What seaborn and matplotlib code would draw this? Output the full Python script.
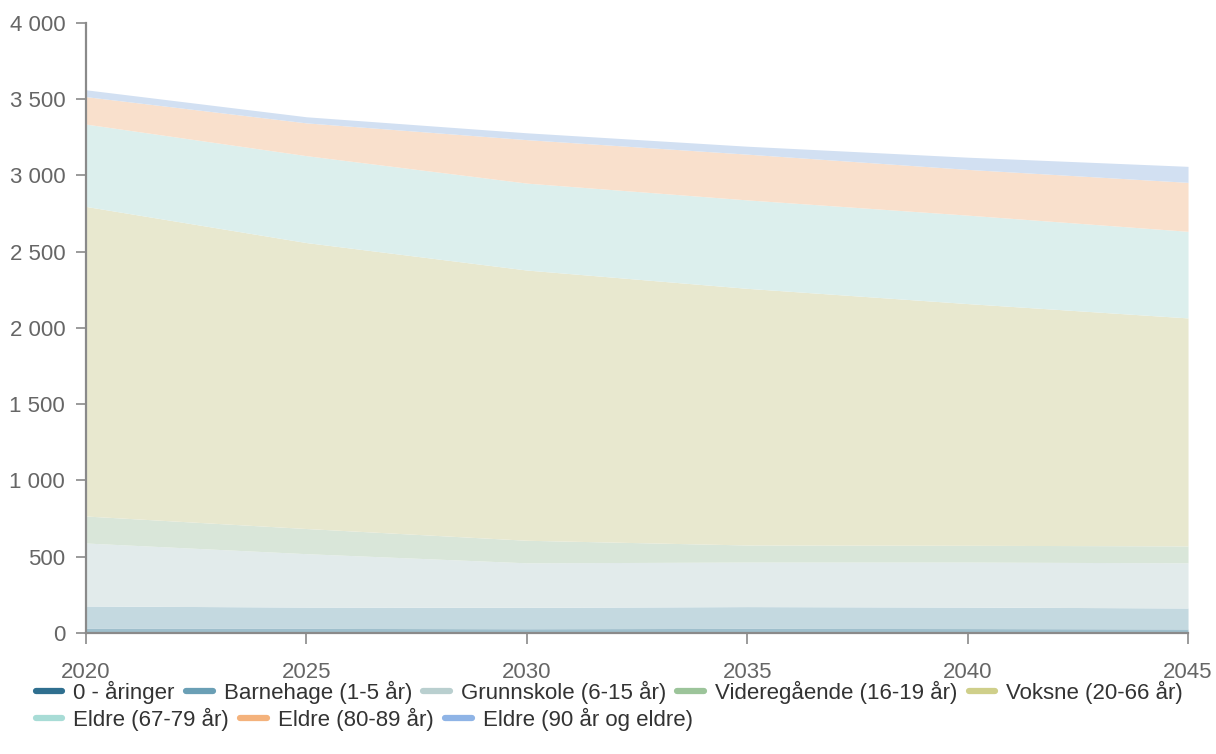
import numpy as np
import pandas as pd
import seaborn as sns
import matplotlib.pyplot as plt
from matplotlib.ticker import FuncFormatter
from matplotlib.lines import Line2D

# data (persons per age group)
years = [2020, 2025, 2030, 2035, 2040, 2045]
groups = ["0 - åringer", "Barnehage (1-5 år)", "Grunnskole (6-15 år)",
          "Videregående (16-19 år)", "Voksne (20-66 år)",
          "Eldre (67-79 år)", "Eldre (80-89 år)", "Eldre (90 år og eldre)"]
aar0 = [30, 30, 28, 30, 29, 27]
barnehage = [147, 140, 140, 143, 141, 137]
grunnskole = [413, 350, 292, 292, 295, 296]
videregaende = [177, 165, 148, 112, 110, 111]
voksne = [2030, 1875, 1772, 1683, 1585, 1495]
eldre67 = [540, 570, 570, 580, 580, 568]
eldre80 = [180, 215, 285, 300, 300, 321]
eldre90 = [45, 40, 45, 52, 80, 105]

line_colors = ["#2f6f8f", "#6a9fb5", "#b9cfcf", "#9cc49a", "#cfcf8a",
               "#a8dcd6", "#f4b27c", "#8fb4e6"]
fill_colors = ["#9fbfcc", "#c4d9e0", "#e2ebeb", "#d9e6d9", "#e8e8cf",
               "#dcefed", "#f9e0cc", "#d2e0f2"]

df = pd.DataFrame({"year": years, groups[0]: aar0, groups[1]: barnehage,
                   groups[2]: grunnskole, groups[3]: videregaende,
                   groups[4]: voksne, groups[5]: eldre67,
                   groups[6]: eldre80, groups[7]: eldre90})

sns.set_theme(style="white")
plt.rcParams['font.family'] = ['Liberation Sans', 'DejaVu Sans']

fig = plt.figure(figsize=(12.16, 7.54), dpi=100)
ax = fig.add_axes([0.0707, 0.1605, 0.9063, 0.809])

ax.stackplot(df["year"], [df[g] for g in groups], colors=fill_colors,
             linewidth=0)

ax.set_xlim(2020, 2045)
ax.set_ylim(0, 4000)
ax.set_xticks(years)
ax.set_yticks(np.arange(0, 4001, 500))
ax.yaxis.set_major_formatter(FuncFormatter(lambda v, p: f"{int(v):,}".replace(",", " ")))

for s in ["top", "right"]:
    ax.spines[s].set_visible(False)
for s in ["left", "bottom"]:
    ax.spines[s].set_color("#8a8a8a")
    ax.spines[s].set_linewidth(1.6)

ax.tick_params(axis="x", length=8, width=1.2, color="#8a8a8a", pad=13,
               labelsize=16, labelcolor="#666666", bottom=True)
ax.tick_params(axis="y", length=7, width=1.2, color="#8a8a8a", pad=8,
               labelsize=16, labelcolor="#666666", left=True)
ax.set_xlabel("")
ax.set_ylabel("")

handles = [Line2D([0], [0], color=c, lw=4.5) for c in line_colors]
leg_kw = dict(frameon=False, fontsize=16, handlelength=1.2, handletextpad=0.5,
              columnspacing=0.5, borderaxespad=0, labelcolor="#333333")
leg1 = fig.legend(handles[:5], groups[:5], ncol=5, loc="upper left",
                  bbox_to_anchor=(0.022, 0.109), **leg_kw)
leg2 = fig.legend(handles[5:], groups[5:], ncol=3, loc="upper left",
                  bbox_to_anchor=(0.022, 0.073), **leg_kw)

fig.savefig("out.png", dpi=100)
